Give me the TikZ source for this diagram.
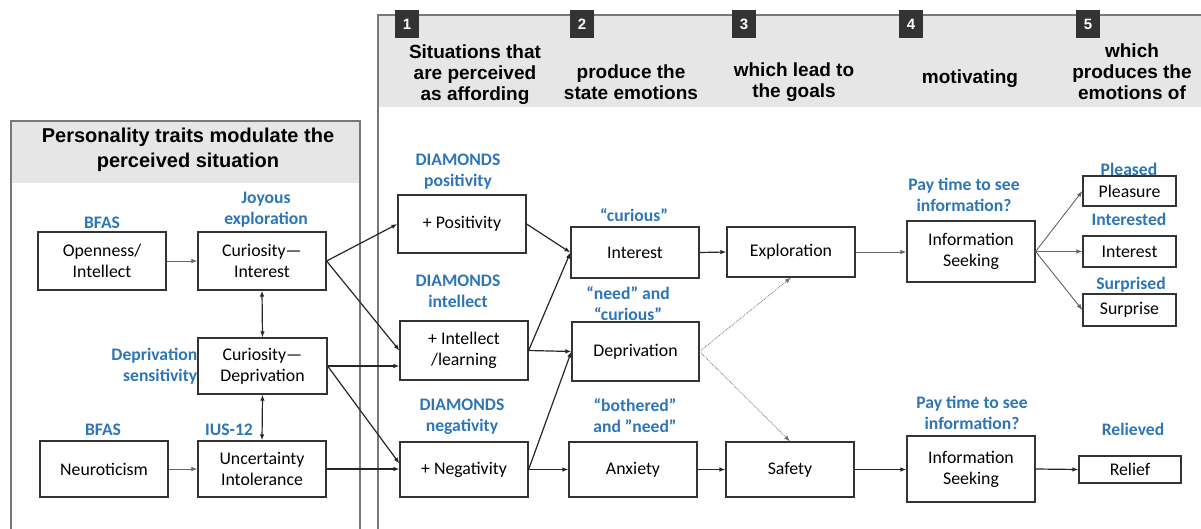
\documentclass[tikz,border=0pt]{standalone}
\usepackage{fontspec}
\setmainfont{Carlito}
\newfontfamily\hdrfont{Liberation Sans}
\usetikzlibrary{arrows.meta}
\definecolor{lblue}{RGB}{46,117,182}
\definecolor{bandgray}{RGB}{230,230,230}
\definecolor{panelgray}{RGB}{120,120,120}
\definecolor{sqgray}{RGB}{51,51,51}
\newcommand\bxfont{\fontsize{17.8}{21}\selectfont}
\newcommand\lblfont{\fontsize{17.6}{21}\selectfont\bfseries}
\newcommand\hdfont{\hdrfont\bfseries\fontsize{19}{21}\selectfont}
\tikzset{
  bx/.style={draw=black!80, line width=1.2pt, fill=white, align=center, font=\bxfont, inner sep=0pt},
  lbl/.style={text=lblue, align=center, font=\lblfont, inner sep=0pt},
  hd/.style={align=center, font=\hdfont, inner sep=0pt},
  numsq/.style={fill=sqgray, text=white, minimum width=24pt, minimum height=28pt, inner sep=0pt, font=\hdrfont\bfseries\fontsize{15}{15}\selectfont},
  arr/.style={line width=1.2pt, draw=black!85, -{Latex[length=6pt,width=4.5pt]}},
  garr/.style={line width=0.9pt, draw=black!60, -{Latex[length=6pt,width=4.5pt]}},
  darr/.style={line width=0.8pt, draw=black!55, densely dotted, -{Latex[length=6pt,width=4.5pt]}},
  barr/.style={line width=1.2pt, draw=black!85, {Latex[length=6pt,width=4.5pt]}-{Latex[length=6pt,width=4.5pt]}},
}
\begin{document}
\begin{tikzpicture}[x=1pt,y=-1pt]
\useasboundingbox (0,0) rectangle (1201,529);
\begin{scope}
\clip (0,0) rectangle (1201,529);
% panels
\fill[bandgray] (11,121) rectangle (360,183);
\draw[panelgray, line width=1.2pt] (11,540) -- (11,121) -- (360,121) -- (360,540);
\fill[bandgray] (378,15) rectangle (1210,107);
\draw[panelgray, line width=1.2pt] (378,540) -- (378,15) -- (1210,15);
\end{scope}
% headers
\node[hd, font=\hdrfont\bfseries\fontsize{20}{25}\selectfont] (lefthd) at (188,150) {Personality traits modulate the\\perceived situation};
\node[numsq] (n1) at (407,24) {1};
\node[numsq] (n2) at (582,24) {2};
\node[numsq] (n3) at (744,24) {3};
\node[numsq] (n4) at (911,24) {4};
\node[numsq] (n5) at (1088,24) {5};
\node[hd] (h1) at (475,75) {Situations that\\are perceived\\as affording};
\node[hd] (h2) at (631,82) {produce the\\state emotions};
\node[hd] (h3) at (794,82) {which lead to\\the goals};
\node[hd] (h4) at (970,79) {motivating};
\node[hd] (h5) at (1132,72) {which\\produces the\\emotions of};
% left boxes
\node[bx, minimum width=128pt, minimum height=58pt] (open) at (102,261) {Openness/\\Intellect};
\node[bx, minimum width=128pt, minimum height=58pt] (curint) at (262,261) {Curiosity---\\Interest};
\node[bx, minimum width=129pt, minimum height=56pt] (curdep) at (262.5,366) {Curiosity---\\Deprivation};
\node[bx, minimum width=128pt, minimum height=56pt] (neuro) at (104,469) {Neuroticism};
\node[bx, minimum width=128pt, minimum height=56pt] (unc) at (262,469) {Uncertainty\\Intolerance};
% left labels
\node[lbl] (l1) at (102,223) {BFAS};
\node[lbl] (l2) at (266,210) {Joyous\\exploration};
\node[lbl, anchor=east, align=right] (l3) at (curdep.west) {Deprivation\\sensitivity};
\node[lbl] (l4) at (103,430) {BFAS};
\node[lbl] (l5) at (229,430) {IUS-12};
% right boxes
\node[bx, minimum width=128pt, minimum height=58pt] (pos) at (462,224) {+ Positivity};
\node[bx, minimum width=128pt, minimum height=59pt] (intel) at (464,350.5) {+ Intellect\\/learning};
\node[bx, minimum width=128pt, minimum height=55pt] (neg) at (464,469.5) {+ Negativity};
\node[bx, minimum width=128pt, minimum height=51pt] (inter) at (635,252.5) {Interest};
\node[bx, minimum width=127pt, minimum height=59pt] (depr) at (635.5,351.5) {Deprivation};
\node[bx, minimum width=128pt, minimum height=55pt] (anx) at (633,469.5) {Anxiety};
\node[bx, minimum width=128pt, minimum height=50pt] (expl) at (791,252) {Exploration};
\node[bx, minimum width=128pt, minimum height=55pt] (safe) at (790,469.5) {Safety};
\node[bx, minimum width=128pt, minimum height=61pt] (is1) at (971,251.5) {Information\\Seeking};
\node[bx, minimum width=128pt, minimum height=66pt] (is2) at (971,469) {Information\\Seeking};
\node[bx, minimum width=93pt, minimum height=30pt] (plea) at (1129.5,191) {Pleasure};
\node[bx, minimum width=93pt, minimum height=31pt] (int2) at (1129.5,251.5) {Interest};
\node[bx, minimum width=93pt, minimum height=32pt] (surp) at (1129.5,310) {Surprise};
\node[bx, minimum width=102pt, minimum height=27pt] (rel) at (1130,469.5) {Relief};
% right labels
\node[lbl] (r1) at (458,172) {DIAMONDS\\positivity};
\node[lbl] (r2) at (458,291) {DIAMONDS\\intellect};
\node[lbl] (r3) at (462,417) {DIAMONDS\\negativity};
\node[lbl] (r4) at (634,215) {“curious”};
\node[lbl] (r5) at (628,304) {“need” and\\“curious”};
\node[lbl] (r6) at (635,416) {“bothered”\\and ”need”};
\node[lbl] (r7) at (964,195) {Pay time to see\\information?};
\node[lbl] (r8) at (972,413) {Pay time to see\\information?};
\node[lbl] (r9) at (1129,169) {Pleased};
\node[lbl] (r10) at (1129,219) {Interested};
\node[lbl] (r11) at (1131,285) {Surprised};
\node[lbl] (r12) at (1133,429) {Relieved};
% connectors left
\draw[garr] (open.east) -- (curint.west);
\draw[garr] (neuro.east) -- (unc.west);
\draw[barr] (curint.south) -- (curdep.north);
\draw[barr] (curdep.south) -- (unc.north);
% left to right
\draw[arr] (curint.east) -- (pos.west);
\draw[arr] (curint.east) -- (intel.west);
\draw[arr] (curdep.east) -- (curdep.east -| intel.west);
\draw[arr] (curdep.east) -- ([yshift=6pt]neg.west);
\draw[arr] (unc.east) -- (unc.east -| neg.west);
% column 1 to 2
\draw[arr] (pos.east) -- (inter.west);
\draw[arr] (intel.east) -- (inter.west);
\draw[arr] (intel.east) -- (depr.west);
\draw[arr] (neg.east) -- (depr.west);
\draw[arr] (neg.east) -- (anx.west);
% column 2 to 3
\draw[arr] (inter.east) -- (expl.west);
\draw[darr] (depr.east) -- (expl.south);
\draw[darr] (depr.east) -- (safe.north);
\draw[arr] (anx.east) -- (safe.west);
% column 3 to 4
\draw[garr] (expl.east) -- (expl.east -| is1.west);
\draw[arr] (safe.east) -- (safe.east -| is2.west);
% column 4 to 5
\draw[garr] (is1.east) -- (plea.west);
\draw[garr] (is1.east) -- (int2.west);
\draw[garr] (is1.east) -- (surp.west);
\draw[arr] (is2.east) -- (rel.west);
\end{tikzpicture}
\end{document}
